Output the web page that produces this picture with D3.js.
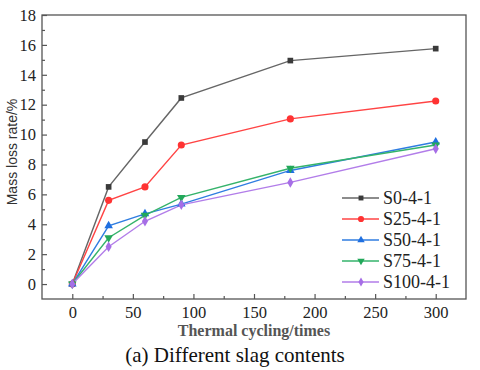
<!DOCTYPE html>
<html>
<head>
<meta charset="utf-8">
<script src="https://cdn.jsdelivr.net/npm/d3@7"></script>
<style>
  body { margin: 0; background: #fff; }
  svg { display: block; }
</style>
</head>
<body>
<div id="chart"></div>
<script>
// data
const cycles = [0, 30, 60, 90, 180, 300];
const seriesNames = ['S0-4-1', 'S25-4-1', 'S50-4-1', 'S75-4-1', 'S100-4-1'];
const s0 = [0, 6.5, 9.5, 12.45, 14.95, 15.75];
const s25 = [0, 5.6, 6.5, 9.3, 11.05, 12.25];
const s50 = [0, 3.9, 4.7, 5.35, 7.6, 9.5];
const s75 = [0, 3.1, 4.6, 5.8, 7.75, 9.3];
const s100 = [0, 2.5, 4.2, 5.3, 6.8, 9.05];
const xTicks = [0, 50, 100, 150, 200, 250, 300];
const yTicks = [0, 2, 4, 6, 8, 10, 12, 14, 16, 18];

const allValues = [s0, s25, s50, s75, s100];
const lineColors = ['#666666', '#ff4444', '#2f7de1', '#35b36b', '#b27de9'];
const markColors = ['#3a3a3a', '#ff3333', '#1f6fe0', '#22a85a', '#a66ee6'];
const symbols = [d3.symbolSquare, d3.symbolCircle, d3.symbolTriangle, 'down', d3.symbolDiamond];

const SERIF = '"Liberation Serif", "Times New Roman", serif';
const SANS = '"Liberation Sans", Arial, sans-serif';

const width = 480, height = 370;
const plotLeft = 42, plotRight = 466, plotTop = 15, plotBottom = 299;

const svg = d3.select('#chart').append('svg')
  .attr('width', width)
  .attr('height', height);

const x = d3.scaleLinear().domain([-25, 325]).range([plotLeft, plotRight]);
const y = d3.scaleLinear().domain([-1, 18]).range([plotBottom, plotTop]);

// frame
svg.append('rect')
  .attr('x', plotLeft).attr('y', plotTop)
  .attr('width', plotRight - plotLeft).attr('height', plotBottom - plotTop)
  .attr('fill', 'none').attr('stroke', '#555').attr('stroke-width', 1.3);

// axes, ticks pointing inward
svg.append('g')
  .attr('transform', `translate(0,${plotBottom})`)
  .call(d3.axisBottom(x).tickValues(xTicks).tickSize(-5).tickPadding(7));
svg.append('g')
  .attr('transform', `translate(0,${plotBottom})`)
  .call(d3.axisBottom(x).tickValues(d3.range(25, 325, 50)).tickSize(-3).tickFormat(''));

svg.append('g')
  .attr('transform', `translate(${plotLeft},0)`)
  .call(d3.axisLeft(y).tickValues(yTicks).tickSize(-5).tickPadding(6));
svg.append('g')
  .attr('transform', `translate(${plotLeft},0)`)
  .call(d3.axisLeft(y).tickValues(d3.range(1, 18, 2)).tickSize(-3).tickFormat(''));

svg.selectAll('.domain').remove();
svg.selectAll('.tick line').attr('stroke', '#555').attr('stroke-width', 1.2);
svg.selectAll('g').attr('font-family', null).attr('font-size', null);
svg.selectAll('.tick text')
  .style('font-family', SERIF)
  .style('font-size', '16.5px')
  .attr('fill', '#222');

// lines and markers
const line = d3.line()
  .x((d, i) => x(cycles[i]))
  .y(d => y(d));

allValues.forEach((vals, k) => {
  svg.append('path')
    .datum(vals)
    .attr('d', line)
    .attr('fill', 'none')
    .attr('stroke', lineColors[k])
    .attr('stroke-width', 1.4);
});

function marker(sel, k, size) {
  if (symbols[k] === 'down') {
    sel.attr('d', d3.symbol().type(d3.symbolTriangle).size(size)())
      .attr('transform', sel.attr('transform') + ' rotate(180)');
  } else {
    sel.attr('d', d3.symbol().type(symbols[k]).size(size)());
  }
}

allValues.forEach((vals, k) => {
  svg.append('g').selectAll('path')
    .data(vals)
    .join('path')
    .attr('transform', (d, i) => `translate(${x(cycles[i])},${y(d)})`)
    .attr('fill', markColors[k])
    .each(function () { marker(d3.select(this), k, k === 1 ? 40 : 32); });
});

// legend
const legend = svg.append('g');
seriesNames.forEach((name, k) => {
  const ly = 198 + k * 21;
  legend.append('line')
    .attr('x1', 342).attr('x2', 379)
    .attr('y1', ly).attr('y2', ly)
    .attr('stroke', lineColors[k]).attr('stroke-width', 1.4);
  legend.append('path')
    .attr('transform', `translate(361,${ly})`)
    .attr('fill', markColors[k])
    .each(function () { marker(d3.select(this), k, k === 1 ? 30 : 24); });
  legend.append('text')
    .attr('x', 383).attr('y', ly + 6)
    .style('font-family', SERIF)
    .style('font-size', '18px')
    .attr('fill', '#222')
    .text(name);
});

// axis titles
svg.append('text')
  .attr('transform', 'translate(17,152) rotate(-90)')
  .attr('text-anchor', 'middle')
  .style('font-family', SANS)
  .style('font-size', '14px')
  .attr('fill', '#333')
  .text('Mass loss rate/%');

svg.append('text')
  .attr('x', 254).attr('y', 336)
  .attr('text-anchor', 'middle')
  .style('font-family', SERIF)
  .style('font-size', '16px')
  .style('font-weight', 'bold')
  .attr('fill', '#555')
  .text('Thermal cycling/times');

svg.append('text')
  .attr('x', 235).attr('y', 362)
  .attr('text-anchor', 'middle')
  .style('font-family', SERIF)
  .style('font-size', '21px')
  .attr('fill', '#111')
  .text('(a) Different slag contents');
</script>
</body>
</html>
